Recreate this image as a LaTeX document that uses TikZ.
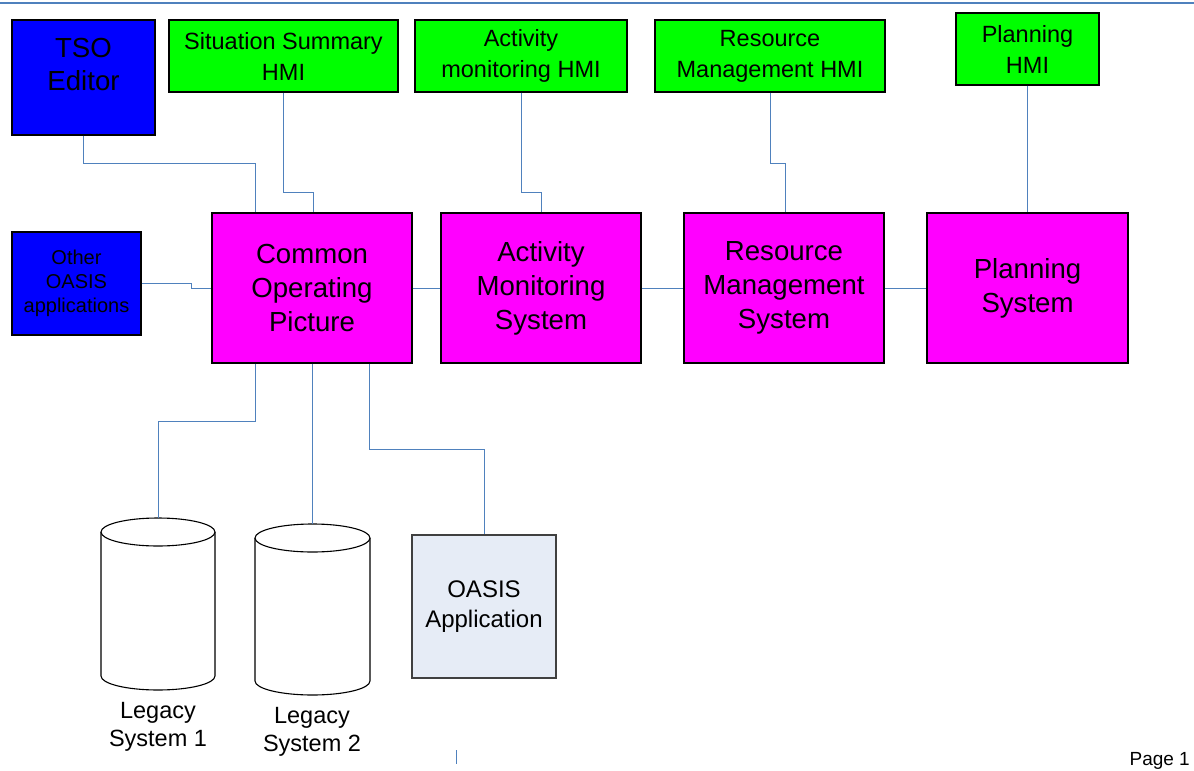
\documentclass[tikz,border=0pt]{standalone}
\usepackage{fontspec}
\setmainfont{Liberation Sans}
\definecolor{linkblue}{RGB}{79,129,189}
\definecolor{hmigreen}{RGB}{0,255,0}
\definecolor{sysmag}{RGB}{255,0,255}
\definecolor{appblue}{RGB}{0,0,255}
\definecolor{applight}{RGB}{230,236,246}
\tikzset{
  box/.style={draw=black, line width=1.1pt, inner sep=0pt, align=center},
  hmi/.style={box, fill=hmigreen, font=\fontsize{23.5}{31}\selectfont},
  sys/.style={box, fill=sysmag, minimum width=200pt, minimum height=150pt, font=\fontsize{27.6}{34}\selectfont},
  link/.style={draw=linkblue, line width=0.9pt},
  cyl/.style={draw=black, line width=1.1pt, fill=white},
  lbl/.style={align=center, inner sep=0pt}
}
\begin{document}
\begin{tikzpicture}[x=1pt, y=-1pt]
\useasboundingbox (0,0) rectangle (1194,771);

% page header rule
\draw[linkblue, line width=2pt] (0,3) -- (1194,3);

% client applications
\node[box, fill=appblue, minimum width=143pt, minimum height=115pt] (tso) at (83.5,77.5) {};
\node[lbl, font=\fontsize{27.6}{33}\selectfont] (tsotext) at (83.5,64) {TSO\\Editor};
\node[box, fill=appblue, minimum width=129pt, minimum height=103pt, font=\fontsize{20}{24}\selectfont] (oth) at (76.5,283.5) {Other\\OASIS\\applications};

% HMIs
\node[hmi, minimum width=229pt, minimum height=72pt] (ssh) at (283.5,56) {Situation Summary\\HMI};
\node[hmi, minimum width=212pt, minimum height=72pt] (amh) at (521,56) {Activity\\monitoring HMI};
\node[hmi, minimum width=230pt, minimum height=72pt] (rmh) at (770,56) {Resource\\Management HMI};
\node[hmi, minimum width=143pt, minimum height=72pt] (plh) at (1027.5,49) {Planning\\HMI};

% core systems
\node[sys] (cop) at (312,288) {Common\\Operating\\Picture};
\node[sys] (ams) at (541,288) {Activity\\Monitoring\\System};
\node[sys] (rms) at (784,288) {Resource\\Management\\System};
\node[sys, minimum width=201pt] (pls) at (1027.5,288) {Planning\\System};

% OASIS application
\node[box, draw=black!75, fill=applight, minimum width=144pt, minimum height=143pt, font=\fontsize{24}{30}\selectfont] (oap) at (484,606.5) {OASIS\\Application};

% legacy databases
\node[inner sep=0pt, minimum width=114pt, minimum height=172pt] (leg1) at (158,604) {};
\draw[cyl] (101,532) -- (101,676) arc[start angle=180, end angle=360, x radius=57pt, y radius=14pt] -- (215,532);
\draw[cyl] (158,532) ellipse[x radius=57pt, y radius=14pt];
\node[inner sep=0pt, minimum width=115pt, minimum height=171pt] (leg2) at (312.5,609.5) {};
\draw[cyl] (255,538) -- (255,681) arc[start angle=180, end angle=360, x radius=57.5pt, y radius=14pt] -- (370,538);
\draw[cyl] (312.5,538) ellipse[x radius=57.5pt, y radius=14pt];
\node[lbl, font=\fontsize{23.5}{28}\selectfont] (leg1text) at (158,727) {Legacy\\System 1};
\node[lbl, font=\fontsize{23.5}{28}\selectfont] (leg2text) at (312,732) {Legacy\\System 2};

% connectors
\draw[link] (tso.south) -- ++(0,28) -| ([xshift=-57pt]cop.north);
\draw[link] (ssh.south) -- ++(0,100) -| ([xshift=1pt]cop.north);
\draw[link] (amh.south) -- ++(0,100) -| (ams.north);
\draw[link] (rmh.south) -- ++(0,71) -| ([xshift=1pt]rms.north);
\draw[link] (plh.south) -- (pls.north);
\draw[link] (oth.east) -- ++(50,0) |- (cop.west);
\draw[link] (cop.east) -- (ams.west);
\draw[link] (ams.east) -- (rms.west);
\draw[link] (rms.east) -- (pls.west);
\draw[link] ([xshift=-57pt]cop.south) -- ++(0,58) -| (leg1.north);
\draw[link] (cop.south) -- (cop.south |- leg2.north);
\draw[link] ([xshift=57pt]cop.south) -- ++(0,86) -| (oap.north);

% footer
\coordinate (tickA) at (456,750);
\coordinate (tickB) at (456,764);
\draw[link] (tickA) -- (tickB);
\node[anchor=east, inner sep=0pt, font=\fontsize{19}{23}\selectfont] (page) at (1190,761) {Page 1};
\end{tikzpicture}
\end{document}
